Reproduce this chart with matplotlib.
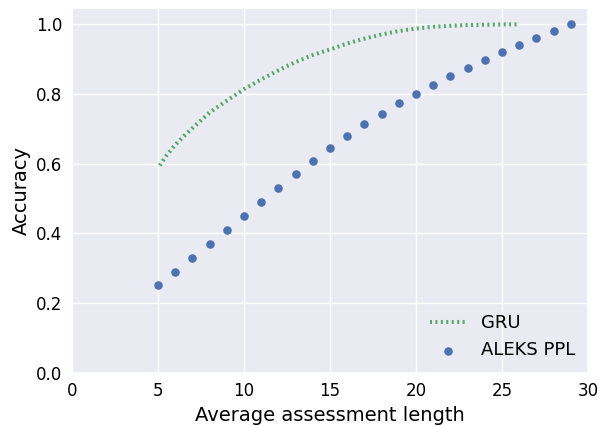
import matplotlib
matplotlib.use("Agg")
import matplotlib.pyplot as plt
import seaborn as sns

sns.set_theme(style="darkgrid")
plt.rcParams["font.family"] = ["DejaVu Sans"]

# GRU accuracy curve
gru_x = [5.1, 5.5, 6, 6.5, 7, 8, 9, 10, 11, 12, 13, 14, 15, 16, 17, 18, 19, 20, 21, 22, 23, 24, 25, 26]
gru_y = [0.595, 0.624, 0.654, 0.679, 0.702, 0.747, 0.781, 0.814, 0.842, 0.868, 0.892, 0.912,
         0.928, 0.945, 0.959, 0.971, 0.981, 0.988, 0.993, 0.996, 0.998, 0.999, 1.0, 1.0]

# ALEKS PPL accuracy per assessment length
ppl_x = list(range(5, 30))
ppl_y = [0.252, 0.290, 0.330, 0.369, 0.410, 0.450, 0.489, 0.530, 0.571, 0.608, 0.645, 0.679,
         0.713, 0.743, 0.773, 0.800, 0.825, 0.851, 0.875, 0.898, 0.920, 0.940, 0.961, 0.981, 1.0]

x_ticks = [0, 5, 10, 15, 20, 25, 30]
y_ticks = [0.0, 0.2, 0.4, 0.6, 0.8, 1.0]

green = "#55A868"
blue = "#4C72B0"

fig = plt.figure(figsize=(5.99, 4.26), dpi=100)
ax = fig.add_axes([0.1202, 0.1251, 0.8614, 0.8561])

ax.plot(gru_x, gru_y, color=green, linewidth=2.9, linestyle=(0, (0.5, 0.85)), label="GRU")
ax.scatter(ppl_x, ppl_y, color=blue, s=38, linewidths=0, label="ALEKS PPL", zorder=3)

ax.set_xlim(0, 30)
ax.set_ylim(0, 1.047)
ax.set_xticks(x_ticks)
ax.set_yticks(y_ticks)
ax.set_xticklabels([str(t) for t in x_ticks])
ax.set_yticklabels([f"{t:.1f}" for t in y_ticks])
ax.tick_params(axis="both", labelsize=12, length=0, pad=7, labelcolor="black")
ax.set_xlabel("Average assessment length", fontsize=14, color="black")
ax.set_ylabel("Accuracy", fontsize=14, color="black")

leg = ax.legend(loc="lower right", bbox_to_anchor=(1.006, -0.008), frameon=False,
                fontsize=13, scatterpoints=1)
for txt in leg.get_texts():
    txt.set_color("black")

fig.savefig("out.png", dpi=100)
